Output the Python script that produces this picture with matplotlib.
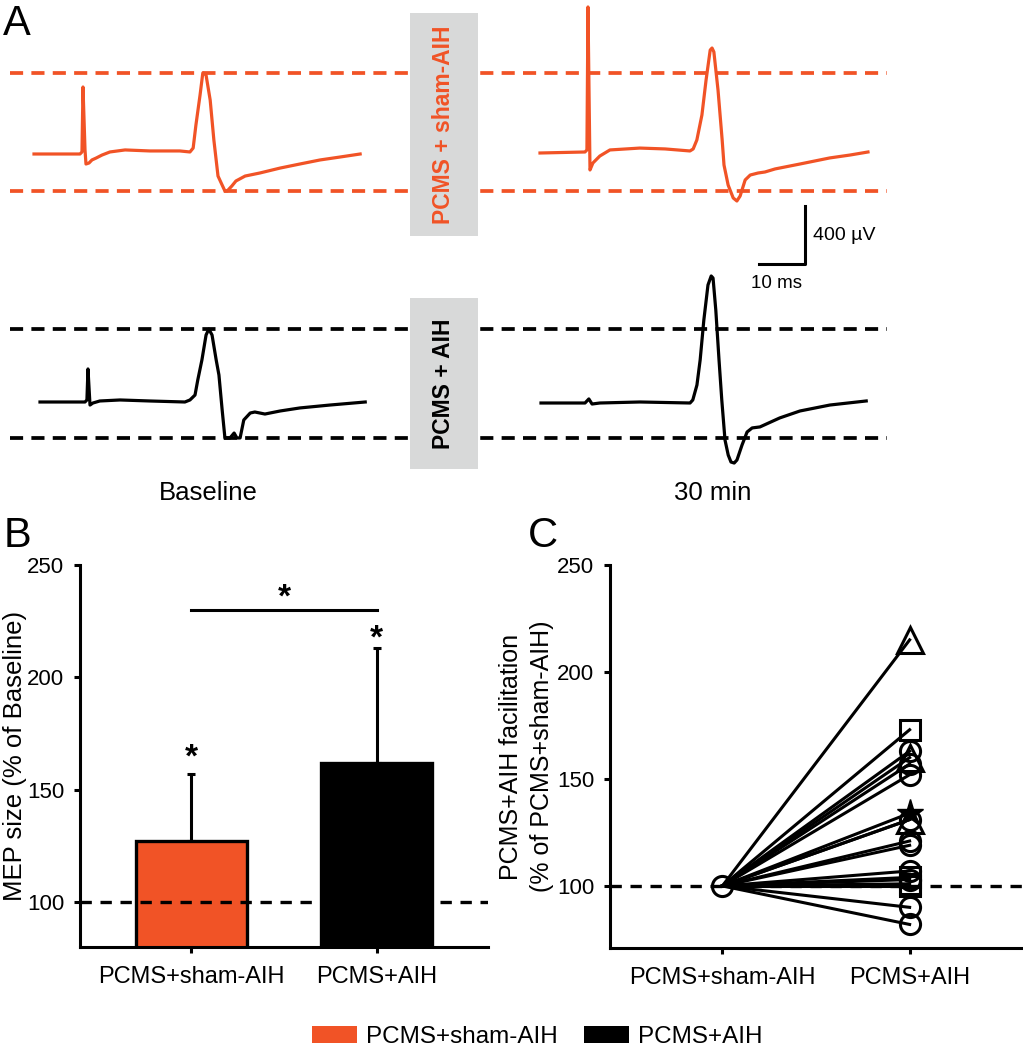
import numpy as np
import matplotlib as mpl
mpl.use('Agg')
import matplotlib.pyplot as plt
from matplotlib.patches import Rectangle, Patch
from matplotlib.transforms import offset_copy

plt.rcParams['font.family'] = ['Liberation Sans', 'DejaVu Sans']

ORANGE = '#F15326'
GREY = '#D8D9D9'

# ---- panel A: example MEP traces (time in ms, amplitude in uV, relative to trace start / baseline)
sham_base_t = [0, 10.0, 10.43, 10.65, 11.09, 11.3, 11.96, 12.6, 13.5, 14.8, 16.5, 19.8, 25.2, 31.7, 33.9,
               34.6, 35.2, 36.1, 36.7, 37.4, 38.3, 39.1, 40.0, 40.9, 41.5, 42.0, 43.0, 43.9, 45.9, 49.1,
               53.5, 57.8, 62.2, 66.5, 70.9]
sham_base_v = [0, 0, 14, 462, 28, -69, -62, -41, -28, -7, 14, 28, 21, 21, 14,
               41, 200, 407, 559, 545, 372, 97, -152, -214, -255, -255, -221, -186, -152, -131,
               -97, -69, -41, -21, 0]
sham_30_t = [0, 9.78, 10.2, 10.43, 10.87, 11.5, 13.0, 15.2, 21.7, 27.2, 32.6, 33.3, 34.1, 35.2, 36.1,
             37.0, 37.4, 37.8, 38.7, 39.6, 40.0, 40.9, 42.0, 42.8, 43.5, 44.6, 45.7, 47.4, 48.9, 51.1,
             56.5, 63.0, 67.4, 71.3]
sham_30_v = [0, 7, 21, 1007, -117, -69, -21, 21, 34, 28, 14, 28, 90, 262, 503,
             710, 724, 697, 434, 90, -83, -221, -310, -331, -297, -186, -152, -138, -131, -110,
             -76, -34, -14, 7]
aih_base_t = [0, 9.78, 10.2, 10.43, 10.87, 11.5, 13.0, 17.4, 23.9, 31.5, 32.6, 33.7, 34.3, 35.2, 36.1,
              36.7, 37.4, 38.3, 38.9, 39.6, 40.2, 41.3, 42.2, 42.8, 43.5, 44.3, 45.7, 46.7, 48.9, 52.2,
              56.5, 63.0, 70.7]
aih_base_v = [0, 0, 14, 228, -21, -7, 7, 14, 7, 0, 14, 48, 152, 290, 462,
              503, 462, 290, 186, -55, -248, -248, -214, -248, -248, -124, -76, -69, -83, -62,
              -41, -21, 0]
aih_30_t = [0, 9.57, 10.4, 11.1, 12.8, 21.5, 32.4, 33.0, 33.9, 34.6, 35.4, 36.3, 37.0, 37.4, 38.0,
            38.7, 39.3, 40.0, 40.7, 41.3, 42.0, 42.6, 43.7, 44.8, 45.9, 47.6, 51.9, 56.3, 62.8, 70.7]
aih_30_v = [0, 0, 28, -7, 0, 7, 0, 21, 124, 297, 572, 814, 876, 862, 641,
            297, 21, -255, -359, -407, -414, -393, -290, -200, -172, -165, -103, -55, -14, 14]

# ---- panel B: group means (% of baseline)
groups = ['PCMS+sham-AIH', 'PCMS+AIH']
mep_mean = [127, 162]
mep_sem = [30, 51]

# ---- panel C: individual facilitation values at PCMS+AIH (sham normalised to 100)
indiv_vals = [215, 173, 163, 160, 157, 152, 134, 131, 131, 121, 119, 107, 104, 103, 101, 100, 90, 82]
indiv_mark = ['^', 's', 'o', '^', 'o', 'o', '*', '^', 'o', 'o', 'o', 'o', 's', 'o', 's', 's', 'o', 'o']

PX_MS = 4.6     # pixels per ms in panel A
PX_UV = 0.145   # pixels per uV in panel A

fig = plt.figure(figsize=(10.23, 10.5), dpi=100)
W, H = 1023.0, 1050.0

# panel A axes spans the top 520 px, in ms / uV
topA = 520
axA = fig.add_axes([0, 1 - topA / H, 1, topA / H])
axA.set_xlim(0, W / PX_MS)
axA.set_ylim(0, topA / PX_UV)
axA.axis('off')

def tx(px):
    return px / PX_MS

def ty(py):
    return (topA - py) / PX_UV

traces = [
    (sham_base_t, sham_base_v, tx(34), ty(154), ORANGE),
    (sham_30_t, sham_30_v, tx(540), ty(153), ORANGE),
    (aih_base_t, aih_base_v, tx(40), ty(402), 'black'),
    (aih_30_t, aih_30_v, tx(541), ty(403), 'black'),
]
for t, v, x0, y0, c in traces:
    axA.plot(np.array(t) + x0, np.array(v) + y0, color=c, lw=2.3, solid_joinstyle='round', zorder=3)

# dashed reference lines at baseline peak / trough
for t, v, x0, y0, c in [traces[0], traces[2]]:
    for lev in (max(v), min(v)):
        axA.plot([tx(10), tx(887)], [y0 + lev, y0 + lev], color=c, lw=2.7,
                 dashes=(3.5, 2.2), zorder=1)

# grey condition boxes
for (y1, y2, label, c) in [(13, 236, 'PCMS + sham-AIH', ORANGE), (298, 469, 'PCMS + AIH', 'black')]:
    axA.add_patch(Rectangle((tx(410), ty(y2)), tx(478) - tx(410), ty(y1) - ty(y2),
                            facecolor=GREY, edgecolor='none', zorder=2))
    axA.text(tx(444), ty((y1 + y2) / 2), label, rotation=90, ha='center', va='center',
             color=c, fontsize=16.5, fontweight='bold', zorder=4)

# scale bar 10 ms / 400 uV
cx, cy = tx(805), ty(264)
axA.plot([cx - 10, cx, cx], [cy, cy, cy + 400], color='black', lw=2.2, zorder=3)
axA.text(cx + tx(8), cy + 200, '400 µV', ha='left', va='center', fontsize=14)
axA.text(cx - 6.3, cy - ty(520 - 19), '10 ms', ha='center', va='center', fontsize=13.5)

axA.text(tx(208), ty(493), 'Baseline', ha='center', va='center', fontsize=18.5)
axA.text(tx(713), ty(493), '30 min', ha='center', va='center', fontsize=18.5)

fig.text(3 / W, 1 - 35 / H, 'A', fontsize=30, va='baseline')
fig.text(4 / W, 1 - 547 / H, 'B', fontsize=30, va='baseline')
fig.text(528 / W, 1 - 547 / H, 'C', fontsize=30, va='baseline')

def style_axis(ax):
    for s in ['top', 'right']:
        ax.spines[s].set_visible(False)
    for s in ['left', 'bottom']:
        ax.spines[s].set_linewidth(2.2)
    ax.tick_params(width=2.2, length=4.5, direction='out')
    ax.tick_params(axis='y', labelsize=16, pad=7)
    ax.tick_params(axis='x', labelsize=17, pad=9.5)

# ---- panel B
axB = fig.add_axes([80 / W, 1 - 947 / H, 408 / W, (947 - 565) / H])
x = np.arange(len(groups))
axB.bar(x, mep_mean, width=0.6, color=[ORANGE, 'black'], edgecolor='black', linewidth=2.4, zorder=2)
axB.errorbar(x, mep_mean, yerr=[[0, 0], mep_sem], fmt='none', ecolor='black', elinewidth=2.2,
             capsize=3, capthick=2.2, zorder=1)
axB.axhline(100, color='black', lw=2.4, dashes=(3.4, 2.6), zorder=3)
axB.plot([0, 1], [230, 230], color='black', lw=2.2)
star_tr = offset_copy(axB.transData, fig=fig, y=-14, units='points')
for xs, ys in [(0, 169), (1, 222), (0.5, 240)]:
    axB.text(xs, ys, '*', ha='center', va='baseline', fontsize=24, fontweight='bold', transform=star_tr)
axB.set_xlim(-0.6, 1.6)
axB.set_ylim(80, 250)
axB.set_yticks([100, 150, 200, 250])
axB.set_xticks(x)
axB.set_xticklabels(groups)
axB.set_ylabel('MEP size (% of Baseline)', fontsize=18.5, labelpad=0)
style_axis(axB)

# ---- panel C
axC = fig.add_axes([610 / W, 1 - 948 / H, 412 / W, (948 - 565) / H])
axC.axhline(100, color='black', lw=2.4, dashes=(3.4, 2.6), zorder=1)
msize = {'o': 14.5, 's': 14, '^': 19, '*': 20}
for v, m in zip(indiv_vals, indiv_mark):
    axC.plot([0, 1], [100, v], color='black', lw=2.2, zorder=2)
    if m == '*':
        axC.plot(1, v, marker=m, ms=msize[m], color='black', mec='black', zorder=3)
    else:
        axC.plot(1, v, marker=m, ms=msize[m], fillstyle='none', mec='black', mew=2.2, zorder=3)
axC.plot(0, 100, marker='o', ms=msize['o'], fillstyle='none', mec='black', mew=2.2, zorder=3)
axC.set_xlim(-0.6, 1.6)
axC.set_ylim(71, 250)
axC.set_yticks([100, 150, 200, 250])
axC.set_xticks(x)
axC.set_xticklabels(groups)
axC.set_ylabel('PCMS+AIH facilitation\n(% of PCMS+sham-AIH)', fontsize=18, labelpad=2, linespacing=1.35)
style_axis(axC)

handles = [Patch(facecolor=ORANGE, edgecolor='none'), Patch(facecolor='black', edgecolor='none')]
fig.legend(handles, groups, loc='center', bbox_to_anchor=(0.525, 1 - 1037 / H), ncol=2, frameon=False,
           fontsize=17.5, handlelength=1.85, handleheight=0.66, handletextpad=0.35,
           columnspacing=1.1, borderpad=0)

fig.savefig('out.png', dpi=100)
